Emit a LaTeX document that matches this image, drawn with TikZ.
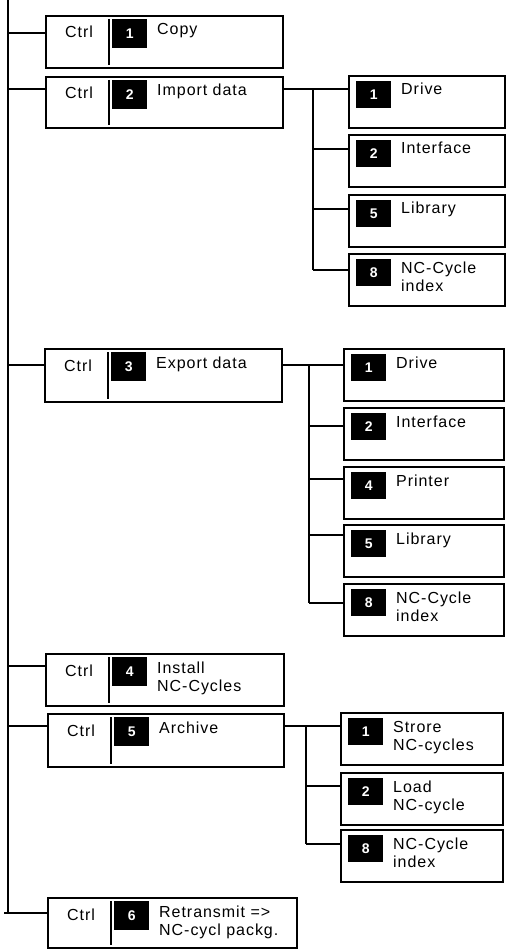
\documentclass[tikz,border=0pt]{standalone}
\usepackage{fontspec}
\setmainfont{Liberation Sans}
\newfontfamily\lblfam{Liberation Sans}[LetterSpace=6]
\newcommand\lblfont{\lblfam\fontsize{16}{18}\selectfont}
\newcommand\numfont{\bfseries\fontsize{14}{16}\selectfont}
\newcommand\twolines[1]{\begin{tabular}[t]{@{}l@{}}#1\end{tabular}}
\tikzset{
  boxframe/.style={draw=black, line width=1.8pt, rectangle, inner sep=0pt, anchor=north west, fill=white},
  numsq/.style={fill=black, text=white, minimum width=35pt, minimum height=27pt, inner sep=0pt, anchor=north west, font=\numfont},
  lbl/.style={anchor=base west, inner sep=0pt, font=\lblfont},
  conn/.style={draw=black, line width=1.8pt},
  divider/.style={draw=black, line width=1.8pt},
}
% main box: #1 name, #2 top-left, #3 width, #4 height, #5 number, #6 label
\newcommand\mainbox[6]{%
  \node[boxframe, minimum width=#3pt, minimum height=#4pt] (#1) at #2 {};
  \node[lbl] (#1c) at ([xshift=20pt,yshift=-23pt]#1.north west) {Ctrl};
  \draw[divider] ([xshift=64pt,yshift=-4pt]#1.north west) -- ([xshift=64pt,yshift=4pt]#1.south west);
  \node[numsq, minimum width=35pt, minimum height=29pt] (#1n) at ([xshift=67pt,yshift=-4pt]#1.north west) {#5};
  \node[lbl] (#1t) at ([xshift=112pt,yshift=-20pt]#1.north west) {\twolines{#6}};
}
% child box: #1 name, #2 top-left, #3 width, #4 number, #5 label
\newcommand\childbox[5]{%
  \node[boxframe, minimum width=#3pt, minimum height=52pt] (#1) at #2 {};
  \node[numsq] (#1n) at ([xshift=8pt,yshift=-6pt]#1.north west) {#4};
  \node[lbl] (#1t) at ([xshift=53pt,yshift=-20pt]#1.north west) {\twolines{#5}};
}
\begin{document}
\begin{tikzpicture}[x=1pt,y=-1pt]
\useasboundingbox[fill=white] (0,0) rectangle (506,949);

% trunk
\coordinate (trunk) at (8,0);
\coordinate (trunkend) at (8,913);
\draw[conn] (trunk) -- (trunkend);

% main boxes
\mainbox{m1}{(45,15)}{237}{52}{1}{Copy}
\mainbox{m2}{(45,76)}{237}{51}{2}{Import data}
\mainbox{m3}{(44,348)}{237}{53}{3}{Export data}
\mainbox{m4}{(45,653)}{238}{52}{4}{Install\\NC-Cycles}
\mainbox{m5}{(47,713)}{236}{53}{5}{Archive}
\mainbox{m6}{(47,897)}{249}{50}{6}{Retransmit =>\\NC-cycl packg.}

% links from trunk
\coordinate (b1) at ([yshift=-18pt]m1.north west);
\coordinate (b2) at ([yshift=-13pt]m2.north west);
\coordinate (b3) at ([yshift=-17pt]m3.north west);
\coordinate (b4) at ([yshift=-13pt]m4.north west);
\coordinate (b5) at ([yshift=-13pt]m5.north west);
\coordinate (b6) at ([yshift=-16pt]m6.north west);
\foreach \b in {b1,b2,b3,b4,b5}{\draw[conn] (\b -| trunk) -- (\b);}
\draw[conn] ([xshift=-4pt]b6 -| trunk) -- (b6);

% Import data children
\childbox{c21}{(348,75)}{156}{1}{Drive}
\childbox{c22}{(348,134)}{156}{2}{Interface}
\childbox{c23}{(348,194)}{156}{5}{Library}
\childbox{c24}{(348,253)}{156}{8}{NC-Cycle\\index}
\coordinate (bus2) at (313,0);
\coordinate (p2) at ([yshift=-13pt]m2.north east);
\coordinate (k21) at ([yshift=-14pt]c21.north west);
\coordinate (k22) at ([yshift=-15pt]c22.north west);
\coordinate (k23) at ([yshift=-15pt]c23.north west);
\coordinate (k24) at ([yshift=-17pt]c24.north west);
\draw[conn] (p2) -- (k21);
\draw[conn] (bus2 |- k21) -- (bus2 |- k24);
\foreach \k in {k22,k23,k24}{\draw[conn] (bus2 |- \k) -- (\k);}

% Export data children
\childbox{c31}{(343,348)}{160}{1}{Drive}
\childbox{c32}{(343,407)}{160}{2}{Interface}
\childbox{c33}{(343,466)}{160}{4}{Printer}
\childbox{c34}{(343,524)}{160}{5}{Library}
\childbox{c35}{(343,583)}{160}{8}{NC-Cycle\\index}
\coordinate (bus3) at (309,0);
\coordinate (p3) at ([yshift=-17pt]m3.north east);
\coordinate (k31) at ([yshift=-17pt]c31.north west);
\coordinate (k32) at ([yshift=-19pt]c32.north west);
\coordinate (k33) at ([yshift=-13pt]c33.north west);
\coordinate (k34) at ([yshift=-11pt]c34.north west);
\coordinate (k35) at ([yshift=-20pt]c35.north west);
\draw[conn] (p3) -- (k31);
\draw[conn] (bus3 |- k31) -- (bus3 |- k35);
\foreach \k in {k32,k33,k34,k35}{\draw[conn] (bus3 |- \k) -- (\k);}

% Archive children
\childbox{c51}{(340,712)}{162}{1}{Strore\\NC-cycles}
\childbox{c52}{(340,772)}{162}{2}{Load\\NC-cycle}
\childbox{c53}{(340,829)}{162}{8}{NC-Cycle\\index}
\coordinate (bus5) at (306,0);
\coordinate (p5) at ([yshift=-13pt]m5.north east);
\coordinate (k51) at ([yshift=-14pt]c51.north west);
\coordinate (k52) at ([yshift=-14pt]c52.north west);
\coordinate (k53) at ([yshift=-15pt]c53.north west);
\draw[conn] (p5) -- (k51);
\draw[conn] (bus5 |- k51) -- (bus5 |- k53);
\foreach \k in {k52,k53}{\draw[conn] (bus5 |- \k) -- (\k);}
\end{tikzpicture}
\end{document}
